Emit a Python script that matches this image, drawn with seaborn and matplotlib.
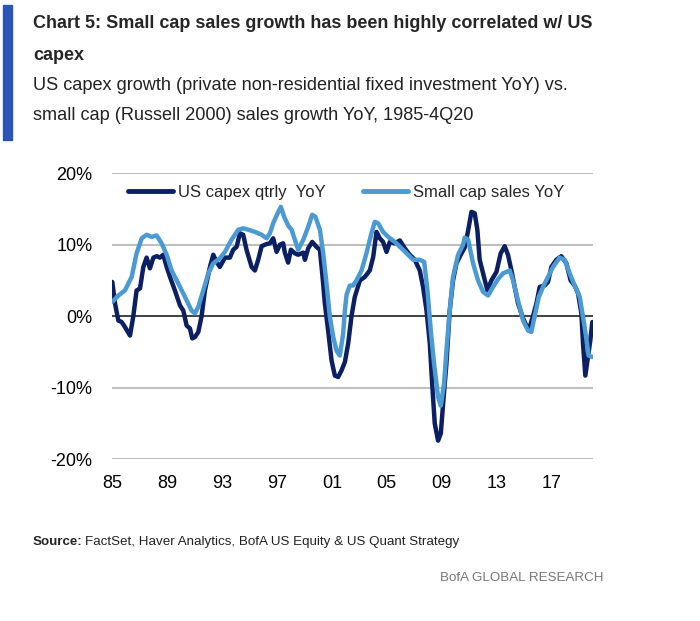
import pandas as pd
import seaborn as sns
import matplotlib.pyplot as plt
from matplotlib.patches import Rectangle

# values (year as decimal, YoY %)
capex_year = [1985.02, 1985.22, 1985.46, 1985.70, 1985.94, 1986.31, 1986.55, 1986.79, 1987.04, 1987.28,
              1987.52, 1987.76, 1988.01, 1988.25, 1988.49, 1988.73, 1988.98, 1989.22, 1989.58, 1989.95,
              1990.19, 1990.43, 1990.67, 1990.84, 1991.04, 1991.28, 1991.52, 1991.76, 1992.13, 1992.37,
              1992.61, 1992.85, 1993.22, 1993.58, 1993.82, 1994.07, 1994.31, 1994.55, 1994.79, 1995.16,
              1995.40, 1995.64, 1995.89, 1996.25, 1996.49, 1996.73, 1996.98, 1997.22, 1997.46, 1997.58,
              1997.82, 1998.02, 1998.31, 1998.55, 1998.92, 1999.04, 1999.28, 1999.57, 1999.88, 2000.13,
              2000.32, 2000.49, 2000.73, 2000.98, 2001.22, 2001.46, 2001.70, 2001.95, 2002.19, 2002.43,
              2002.67, 2003.04, 2003.40, 2003.76, 2004.01, 2004.25, 2004.49, 2004.73, 2004.98, 2005.22,
              2005.58, 2005.95, 2006.31, 2006.67, 2007.04, 2007.40, 2007.64, 2007.89, 2008.13, 2008.30,
              2008.49, 2008.73, 2008.93, 2009.10, 2009.34, 2009.58, 2009.82, 2010.07, 2010.38, 2010.67,
              2010.92, 2011.16, 2011.40, 2011.59, 2011.76, 2012.01, 2012.32, 2012.61, 2012.98, 2013.29,
              2013.58, 2013.82, 2014.07, 2014.31, 2014.55, 2014.92, 2015.16, 2015.40, 2015.64, 2015.89,
              2016.13, 2016.49, 2016.73, 2016.98, 2017.34, 2017.70, 2018.07, 2018.38, 2018.67, 2018.92,
              2019.16, 2019.28, 2019.45, 2019.64, 2019.81, 2019.96]
capex_yoy = [4.8, 1.8, -0.6, -0.8, -1.5, -2.7, 0.0, 3.6, 3.9, 6.9,
             8.2, 6.7, 8.2, 8.4, 8.2, 8.6, 6.9, 5.5, 3.6, 1.5,
             0.8, -1.3, -1.7, -3.1, -2.9, -2.2, 0.0, 3.6, 6.9, 8.6,
             7.6, 6.9, 8.2, 8.2, 9.3, 9.7, 11.6, 11.4, 9.3, 6.9,
             6.4, 7.9, 9.8, 10.1, 10.2, 10.9, 9.0, 10.0, 10.2, 8.9,
             7.5, 9.3, 8.8, 8.6, 8.9, 7.9, 9.5, 10.4, 9.7, 9.3,
             5.6, 1.8, -2.0, -6.2, -8.3, -8.5, -7.6, -6.4, -3.8, 0.0,
             2.7, 5.0, 5.5, 6.4, 8.3, 11.8, 10.9, 10.4, 9.0, 10.4,
             10.2, 10.6, 9.5, 8.6, 7.9, 6.4, 4.1, 0.8, -3.8, -9.4,
             -15.0, -17.4, -16.4, -12.2, -6.6, 0.8, 5.0, 7.4, 8.6, 9.6,
             12.0, 14.6, 14.4, 12.1, 7.9, 6.0, 3.6, 5.0, 6.2, 8.8,
             9.8, 8.6, 6.4, 4.1, 1.8, -0.3, -1.3, -1.5, 0.0, 1.8,
             4.1, 4.3, 4.8, 6.9, 7.9, 8.4, 7.4, 5.0, 4.3, 3.2,
             0.4, -3.8, -8.3, -5.7, -3.4, -0.8]

smallcap_year = [1985.02, 1985.46, 1985.94, 1986.43, 1986.79, 1987.16, 1987.52, 1987.88, 1988.25, 1988.61,
                 1988.98, 1989.34, 1989.82, 1990.31, 1990.79, 1991.04, 1991.28, 1991.64, 1992.01, 1992.37,
                 1992.85, 1993.22, 1993.70, 1994.19, 1994.55, 1994.92, 1995.40, 1995.89, 1996.25, 1996.49,
                 1996.73, 1997.10, 1997.29, 1997.53, 1997.82, 1998.07, 1998.31, 1998.55, 1998.92, 1999.28,
                 1999.57, 1999.81, 2000.13, 2000.37, 2000.61, 2000.85, 2001.10, 2001.34, 2001.58, 2001.82,
                 2001.95, 2002.07, 2002.31, 2002.55, 2002.79, 2003.16, 2003.52, 2003.88, 2004.13, 2004.37,
                 2004.73, 2005.10, 2005.58, 2006.07, 2006.55, 2006.92, 2007.40, 2007.72, 2007.96, 2008.20,
                 2008.44, 2008.73, 2008.93, 2009.17, 2009.34, 2009.58, 2009.82, 2010.19, 2010.55, 2010.67,
                 2010.92, 2011.28, 2011.64, 2012.01, 2012.37, 2012.73, 2013.10, 2013.46, 2013.95, 2014.19,
                 2014.55, 2014.92, 2015.28, 2015.52, 2015.76, 2016.06, 2016.37, 2016.73, 2017.10, 2017.58,
                 2017.95, 2018.31, 2018.67, 2019.04, 2019.40, 2019.69, 2019.96]
smallcap_yoy = [2.0, 2.9, 3.6, 5.5, 8.8, 10.9, 11.4, 11.1, 11.3, 10.2,
                8.6, 6.4, 4.6, 2.7, 0.8, 0.4, 1.3, 3.6, 6.0, 7.4,
                8.1, 9.0, 10.7, 12.1, 12.3, 12.1, 11.8, 11.4, 10.9, 11.6,
                13.0, 14.6, 15.3, 13.9, 12.7, 12.1, 10.7, 9.3, 10.7, 12.5,
                14.2, 13.9, 12.1, 8.8, 4.6, 0.0, -2.9, -4.8, -5.5, -2.5,
                0.8, 3.0, 4.3, 4.3, 5.0, 6.4, 8.8, 11.6, 13.2, 13.0,
                11.8, 11.1, 10.4, 9.5, 8.6, 7.9, 7.9, 7.6, 3.6, -2.0,
                -6.6, -11.3, -12.5, -9.4, -4.8, 0.8, 5.5, 8.6, 10.0, 11.0,
                10.7, 7.4, 5.0, 3.4, 2.9, 4.1, 5.2, 6.0, 6.4, 5.0,
                2.2, -0.6, -2.0, -2.2, 0.0, 2.7, 4.1, 5.5, 6.9, 8.2,
                7.9, 6.0, 4.3, 2.7, -1.5, -5.5, -5.7]

series_names = ["US capex qtrly  YoY", "Small cap sales YoY"]
series_colors = ["#0c1f63", "#4b9ad3"]
y_ticks = [-20, -10, 0, 10, 20]
x_ticks = [1985, 1989, 1993, 1997, 2001, 2005, 2009, 2013, 2017]
x_labels = ["85", "89", "93", "97", "01", "05", "09", "13", "17"]

df = pd.concat([
    pd.DataFrame({"year": capex_year, "yoy": capex_yoy, "series": series_names[0]}),
    pd.DataFrame({"year": smallcap_year, "yoy": smallcap_yoy, "series": series_names[1]}),
])

sns.set_style("white")
plt.rcParams["font.family"] = ["Liberation Sans", "DejaVu Sans"]

fig = plt.figure(figsize=(7, 6.21), dpi=100)
ax = fig.add_axes([0.16, 0.2605, 0.687, 0.4605])

sns.lineplot(data=df, x="year", y="yoy", hue="series", palette=series_colors,
             linewidth=3.2, ax=ax, sort=False, estimator=None)

ax.set_xlim(1985, 2020)
ax.set_ylim(-20, 20)
for t in y_ticks:
    if t == 0:
        ax.axhline(t, color="#333333", lw=1.3, zorder=0.5)
    else:
        ax.axhline(t, color="#bfbfbf", lw=1.5, zorder=0.5)
ax.set_yticks(y_ticks)
ax.set_yticklabels([f"{t}%" for t in y_ticks])
ax.set_xticks(x_ticks)
ax.set_xticklabels(x_labels)
ax.tick_params(axis="both", length=0, labelsize=13, colors="black")
ax.tick_params(axis="y", pad=14)
ax.tick_params(axis="x", pad=11)
ax.set_xlabel("")
ax.set_ylabel("")
sns.despine(ax=ax, left=True, bottom=True)

handles, labels = ax.get_legend_handles_labels()
for h in handles:
    h.set_linewidth(3.5)
ax.legend(handles, labels, loc="upper left", bbox_to_anchor=(0.01, 1.0), ncol=2,
          frameon=False, handlelength=2.7, handletextpad=0.3, columnspacing=2.2,
          prop={"size": 12}, borderaxespad=0.3)

# header
fig.patches.append(Rectangle((0.004, 0.775), 0.013, 0.217, transform=fig.transFigure,
                             color="#2a55b5", zorder=3))
fig.text(0.047, 0.955, "Chart 5: Small cap sales growth has been highly correlated w/ US",
         weight="bold", size=13, va="baseline")
fig.text(0.047, 0.903, "capex", weight="bold", size=13, va="baseline")
fig.text(0.047, 0.855, "US capex growth (private non-residential fixed investment YoY) vs.",
         size=13.1, color="#222222", va="baseline")
fig.text(0.047, 0.806, "small cap (Russell 2000) sales growth YoY, 1985-4Q20",
         size=13.1, color="#222222", va="baseline")

# footer
src = fig.text(0.047, 0.122, "Source:", weight="bold", size=9.6, va="baseline")
fig.canvas.draw()
src_end = src.get_window_extent().x1 / fig.bbox.width
fig.text(src_end + 0.004, 0.122, "FactSet, Haver Analytics, BofA US Equity & US Quant Strategy",
         size=9.6, color="#222222", va="baseline")
fig.text(0.628, 0.064, "BofA GLOBAL RESEARCH", size=9.6,
         color="#777777", va="baseline")

fig.savefig("out.png", dpi=100)
